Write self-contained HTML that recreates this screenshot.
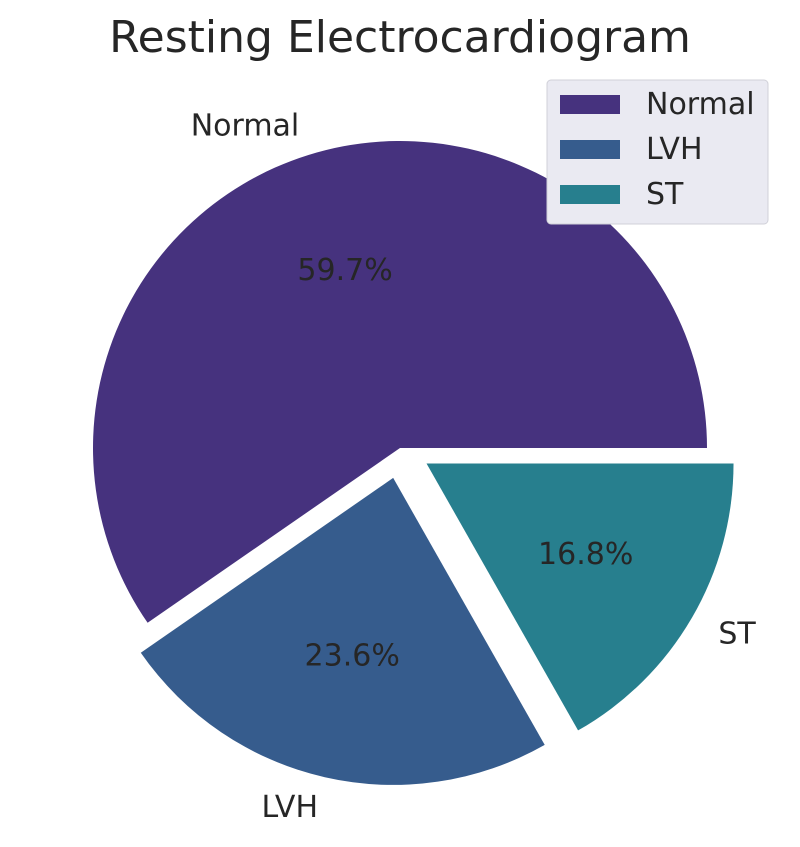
<!DOCTYPE html>
<html><head><meta charset="utf-8"><style>
body{margin:0;background:#fff;}
svg{display:block;font-family:"DejaVu Sans","Liberation Sans",sans-serif;}
</style></head><body>
<svg id="chart" width="800" height="847" viewBox="0 0 800 847">
<text x="400" y="52" text-anchor="middle" font-size="44" fill="#262626">Resting Electrocardiogram</text>
<g id="slices"></g>
<g>
<rect x="547" y="80" width="221" height="144" rx="4" fill="#eaeaf2" stroke="#d0d0d8"/>
<g id="legend-items"></g>
</g>
</svg>
<script>
const categories = ["Normal", "LVH", "ST"];
const values = [59.7, 23.6, 16.8];
const explode = [0, 0.1, 0.1];
const colors = ["#46327e", "#365c8d", "#277f8e"];

const cx = 400, cy = 448, r = 307;
const ns = "http://www.w3.org/2000/svg";
const g = document.getElementById("slices");
const total = values.reduce((a, b) => a + b, 0);
let start = 0;
function pt(x, y, ang, rad) {
  const a = ang * Math.PI / 180;
  return [x + rad * Math.cos(a), y - rad * Math.sin(a)];
}
values.forEach((v, i) => {
  const sweep = v / total * 360;
  const mid = start + sweep / 2;
  const [ox, oy] = pt(cx, cy, mid, explode[i] * r);
  const [x1, y1] = pt(ox, oy, start, r);
  const [x2, y2] = pt(ox, oy, start + sweep, r);
  const large = sweep > 180 ? 1 : 0;
  const p = document.createElementNS(ns, "path");
  p.setAttribute("d", `M${ox},${oy} L${x1},${y1} A${r},${r} 0 ${large} 0 ${x2},${y2} Z`);
  p.setAttribute("fill", colors[i]);
  
  
  g.appendChild(p);
  const [lx, ly] = pt(ox, oy, mid, 1.1 * r);
  const lab = document.createElementNS(ns, "text");
  lab.setAttribute("x", lx);
  lab.setAttribute("y", ly + 10);
  lab.setAttribute("font-size", "30");
  lab.setAttribute("fill", "#262626");
  lab.setAttribute("text-anchor", Math.cos(mid * Math.PI / 180) < 0 ? "end" : "start");
  lab.textContent = categories[i];
  
  
  g.appendChild(lab);
  const [px, py] = pt(ox, oy, mid, 0.6 * r);
  const pc = document.createElementNS(ns, "text");
  pc.setAttribute("x", px);
  pc.setAttribute("y", py + 8);
  pc.setAttribute("font-size", "30");
  pc.setAttribute("fill", "#262626");
  pc.setAttribute("text-anchor", "middle");
  pc.textContent = v.toFixed(1) + "%";
  
  
  g.appendChild(pc);
  start += sweep;
});
const lg = document.getElementById("legend-items");
categories.forEach((c, i) => {
  const y = 104 + i * 45;
  const rc = document.createElementNS(ns, "rect");
  rc.setAttribute("x", 560); rc.setAttribute("y", y - 9);
  rc.setAttribute("width", 60); rc.setAttribute("height", 19);
  rc.setAttribute("fill", colors[i]);
  
  
  lg.appendChild(rc);
  const t = document.createElementNS(ns, "text");
  t.setAttribute("x", 646); t.setAttribute("y", y + 10);
  t.setAttribute("font-size", "30"); t.setAttribute("fill", "#262626");
  t.textContent = c;
  
  
  lg.appendChild(t);
});
</script>
</body></html>
